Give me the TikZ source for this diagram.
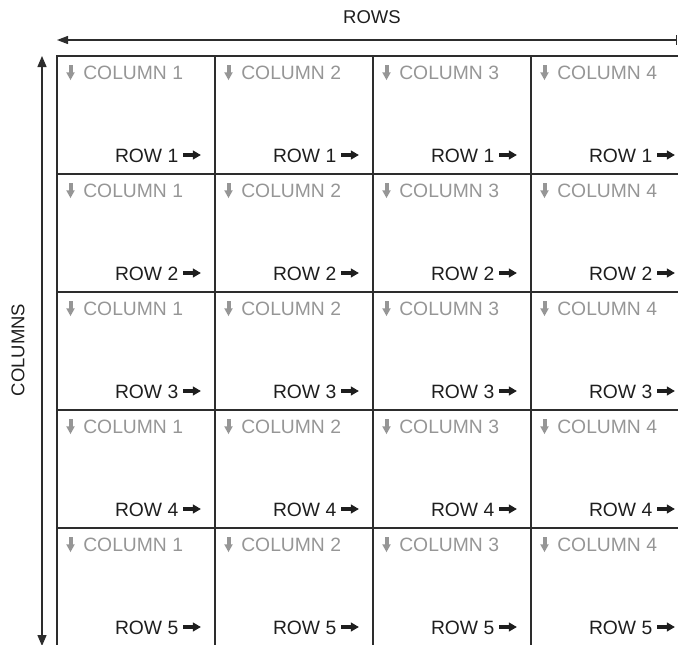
\documentclass[tikz,border=0pt]{standalone}
\usepackage{fontspec}
\setmainfont{Liberation Sans}
\usetikzlibrary{arrows.meta, positioning, calc}
\definecolor{gridgray}{RGB}{45, 45, 45}
\definecolor{labelgray}{RGB}{150, 150, 150}
\definecolor{textblack}{RGB}{30, 30, 30}

% small fat arrows used inside the labels
\newcommand{\rowarrow}{\tikz[baseline=0pt]{\fill[textblack] (0,5pt) rectangle (10.5pt,9pt);
  \fill[textblack] (10pt,2.3pt) -- (18pt,7pt) -- (10pt,11.7pt) -- cycle;}}
\newcommand{\colarrow}{\tikz[baseline=0pt]{\fill[labelgray] (2pt,6.5pt) rectangle (6pt,14.7pt);
  \fill[labelgray] (-0.3pt,7pt) -- (8.3pt,7pt) -- (4pt,-0.7pt) -- cycle;}}

\begin{document}
\begin{tikzpicture}[
    x=1pt, y=-1pt,
    cell/.style={draw=gridgray, line width=2pt, minimum width=158pt, minimum height=118pt, inner sep=0pt, outer sep=0pt},
    collabel/.style={text=labelgray, font=\fontsize{19.3}{22}\selectfont, inner sep=0pt, anchor=base west},
    rowlabel/.style={text=textblack, font=\fontsize{19.3}{22}\selectfont, inner sep=0pt, anchor=base east},
    axislabel/.style={text=textblack, font=\fontsize{18.5}{22}\selectfont, inner sep=0pt},
    axis/.style={draw=gridgray, line width=1.3pt}
]
\useasboundingbox (0,0) rectangle (678,646);
\clip (0,0) rectangle (678,644.8);

% grid of cells
\foreach \c in {1,...,4}{
  \foreach \r in {1,...,5}{
    \node[cell] (c\c r\r) at ({57+158*(\c-0.5)},{56+118*(\r-0.5)}) {};
    \node[collabel] (cl\c r\r) at ($(c\c r\r.north west)+(9,23.3)$) {\colarrow\hspace{8.5pt}COLUMN \c};
    \node[rowlabel] (rl\c r\r) at ($(c\c r\r.south east)+(-14,-12)$) {ROW \r\hspace{4.5pt}\rowarrow};
  }
}

% axes
\coordinate (rowsL) at (57,40);
\coordinate (rowsR) at (677,40);
\coordinate (colsT) at (42,56);
\coordinate (colsB) at (42,646);
\draw[axis, {Triangle[length=11pt,width=8pt]}-{Bar[width=10pt]}] (rowsL) -- (rowsR);
\draw[axis, {Triangle[length=11pt,width=9pt]}-{Triangle[length=11pt,width=9pt]}] (colsT) -- (colsB);

\node[axislabel] (rows) at (372,17) {ROWS};
\node[axislabel, rotate=90] (cols) at (18,350) {COLUMNS};

\end{tikzpicture}
\end{document}
